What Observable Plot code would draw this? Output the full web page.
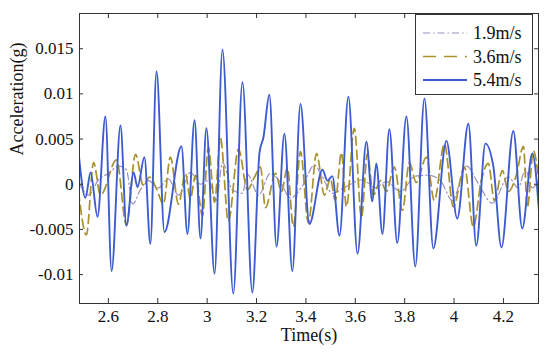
<!DOCTYPE html>
<html>
<head>
<meta charset="utf-8">
<script src="https://cdn.jsdelivr.net/npm/d3@7"></script>
<script src="https://cdn.jsdelivr.net/npm/@observablehq/plot@0.6"></script>
<style>
  html, body { margin: 0; padding: 0; background: #fff; }
  #wrap { position: relative; width: 550px; height: 354px; }
  #wrap svg text { font-family: 'Liberation Serif', 'Times New Roman', Times, serif; }
  #legend { position: absolute; left: 415px; top: 14px; }
</style>
</head>
<body>
<div id="wrap"></div>
<script>
// ---- Data ----
const xTickValues = [2.6, 2.8, 3, 3.2, 3.4, 3.6, 3.8, 4, 4.2];
const yTickValues = [-0.01, -0.005, 0, 0.005, 0.01, 0.015];
const seriesNames = ["1.9m/s", "3.6m/s", "5.4m/s"];

// 5.4 m/s
const time54 = [2.479, 2.507, 2.528, 2.556, 2.588, 2.613, 2.649, 2.673, 2.702, 2.718, 2.746, 2.770, 2.795, 2.827,
  2.896, 2.920, 2.949, 2.973, 2.997, 3.030, 3.062, 3.106, 3.143, 3.183, 3.212, 3.228, 3.252, 3.281, 3.313, 3.345,
  3.378, 3.414, 3.467, 3.487, 3.507, 3.536, 3.572, 3.609, 3.645, 3.669, 3.685, 3.710, 3.738, 3.770, 3.807, 3.843,
  3.880, 3.916, 3.969, 4.013, 4.058, 4.090, 4.127, 4.159, 4.192, 4.240, 4.276, 4.317, 4.345];
const acc54 = [0.0036, -0.0015, 0.0013, -0.0036, 0.0075, -0.0096, 0.0065, -0.0046, 0.0013, -0.0003, 0.0030, -0.0066, 0.0125, -0.0053,
  0.0042, -0.0055, 0.0071, -0.0060, 0.0062, -0.0099, 0.0149, -0.0121, 0.0113, -0.0120, 0.0035, 0.0052, 0.0099, -0.0069, 0.0056, -0.0096,
  0.0089, -0.0044, 0.0016, 0.0004, 0.0009, -0.0057, 0.0097, -0.0077, 0.0047, -0.0019, 0.0023, -0.0055, 0.0061, -0.0065, 0.0075, -0.0091,
  0.0095, -0.0071, 0.0048, -0.0038, 0.0067, -0.0068, 0.0045, 0.0020, -0.0070, 0.0059, -0.0049, 0.0034, -0.0033];

// 3.6 m/s
const time36 = [2.479, 2.511, 2.540, 2.568, 2.633, 2.673, 2.710, 2.742, 2.766, 2.795, 2.823, 2.851, 2.884, 2.912, 2.932,
  2.953, 2.981, 3.005, 3.030, 3.054, 3.086, 3.127, 3.163, 3.192, 3.216, 3.236, 3.277, 3.301, 3.325, 3.349, 3.378,
  3.410, 3.443, 3.475, 3.499, 3.519, 3.544, 3.564, 3.596, 3.625, 3.649, 3.673, 3.702, 3.726, 3.758, 3.791, 3.819,
  3.847, 3.888, 3.920, 3.961, 3.997, 4.042, 4.078, 4.111, 4.139, 4.163, 4.196, 4.220, 4.252, 4.281, 4.297, 4.321, 4.345];
const acc36 = [-0.0008, -0.0056, 0.0024, -0.0012, 0.0027, -0.0045, 0.0033, -0.0002, 0.0008, -0.0005, -0.0022, 0.0030, -0.0022, 0.0012, -0.0016,
  0.0010, -0.0035, 0.0041, -0.0020, 0.0051, -0.0041, 0.0039, -0.0006, 0.0008, 0.0019, -0.0026, 0.0012, -0.0008, 0.0018, -0.0047, 0.0036,
  -0.0043, 0.0034, -0.0012, 0.0006, -0.0018, 0.0035, -0.0025, 0.0062, -0.0037, 0.0034, -0.0012, 0.0004, -0.0008, 0.0019, -0.0029, 0.0024,
  0.0002, 0.0030, -0.0018, 0.0045, -0.0025, 0.0019, -0.0047, 0.0005, 0.0023, -0.0018, 0.0015, -0.0008, 0.0010, 0.0042, -0.0026, 0.0037, 0.0000];

// 1.9 m/s
const time19 = [2.479, 2.519, 2.560, 2.600, 2.641, 2.673, 2.698, 2.730, 2.762, 2.803, 2.843, 2.884, 2.932, 2.973, 3.005,
  3.038, 3.062, 3.102, 3.143, 3.163, 3.208, 3.256, 3.297, 3.337, 3.386, 3.434, 3.467, 3.507, 3.560, 3.629, 3.681,
  3.726, 3.783, 3.843, 3.896, 3.945, 3.993, 4.050, 4.098, 4.155, 4.220, 4.260, 4.289, 4.317, 4.345];
const acc19 = [0.0003, -0.0012, 0.0005, 0.0012, 0.0020, 0.0016, -0.0022, -0.0006, 0.0004, -0.0004, 0.0006, -0.0012, 0.0013, 0.0000, 0.0004,
  -0.0018, 0.0024, -0.0006, -0.0010, 0.0011, -0.0012, 0.0012, 0.0002, -0.0015, -0.0002, 0.0021, 0.0008, -0.0010, -0.0003, 0.0005, -0.0004,
  0.0003, -0.0008, 0.0009, 0.0010, 0.0004, -0.0018, 0.0020, 0.0001, -0.0021, 0.0008, -0.0004, 0.0016, -0.0004, 0.0006];

const colors = {"1.9m/s": "#9a90c2", "3.6m/s": "#a8922e", "5.4m/s": "#3d5ccf"};

const toRows = (ts, vs) => ts.map((t, i) => ({t, v: vs[i]}));
const d19 = toRows(time19, acc19);
const d36 = toRows(time36, acc36);
const d54 = toRows(time54, acc54);

const serif = "'Liberation Serif', 'Times New Roman', Times, serif";
const fmtX = d => String(+d.toFixed(1));
const fmtY = d => String(+d.toFixed(3));

const chart = Plot.plot({
  width: 550,
  height: 354,
  marginLeft: 79,
  marginRight: 12,
  marginTop: 13,
  marginBottom: 51,
  x: {domain: [2.483, 4.342]},
  y: {domain: [-0.0132, 0.0189]},
  style: {fontFamily: serif, fontSize: "17px", background: "#fff", color: "#111"},
  marks: [
    Plot.lineY(d19, {x: "t", y: "v", curve: "monotone-x", stroke: colors["1.9m/s"], strokeWidth: 1.2, strokeDasharray: "7,3,1.5,3", clip: true}),
    Plot.lineY(d36, {x: "t", y: "v", curve: "monotone-x", stroke: colors["3.6m/s"], strokeWidth: 1.7, strokeDasharray: "9,5", clip: true}),
    Plot.lineY(d54, {x: "t", y: "v", curve: "monotone-x", stroke: colors["5.4m/s"], strokeWidth: 1.9, clip: true}),
    Plot.frame({stroke: "#333", strokeWidth: 1}),
    Plot.tickX(xTickValues, {x: d => d, insetTop: 285, stroke: "#333"}),
    Plot.tickX(xTickValues, {x: d => d, insetBottom: 285, stroke: "#333"}),
    Plot.tickY(yTickValues, {y: d => d, insetRight: 455, stroke: "#333"}),
    Plot.tickY(yTickValues, {y: d => d, insetLeft: 455, stroke: "#333"}),
    Plot.axisX({ticks: xTickValues, tickSize: 0, tickPadding: 6, tickFormat: fmtX, label: null, fontFamily: serif, fontSize: 17}),
    Plot.axisY({ticks: yTickValues, tickSize: 0, tickPadding: 6, tickFormat: fmtY, label: null, fontFamily: serif, fontSize: 17}),
    Plot.text(["Time(s)"], {frameAnchor: "bottom", dy: 37, fontSize: 18, fontFamily: serif, fill: "#111"}),
    Plot.text(["Acceleration(g)"], {frameAnchor: "left", rotate: -90, dx: -62, dy: -3, fontSize: 18, fontFamily: serif, fill: "#111"})
  ]
});

const wrap = document.getElementById("wrap");
wrap.appendChild(chart);

// Legend box inside the plot area (top-right)
const lw = 118, lh = 81;
const leg = d3.select(wrap).append("svg")
  .attr("id", "legend")
  .attr("width", lw).attr("height", lh)
  .style("font-family", serif).style("font-size", "18px");
leg.append("rect").attr("x", 0.5).attr("y", 0.5).attr("width", lw - 1).attr("height", lh - 1)
  .attr("fill", "#fff").attr("stroke", "#333");
const styles = {
  "1.9m/s": {dash: "7,3,1.5,3", w: 1.2},
  "3.6m/s": {dash: "13,8", w: 1.7},
  "5.4m/s": {dash: null, w: 1.9}
};
seriesNames.forEach((name, i) => {
  const y = 19 + i * 23.5;
  const ln = leg.append("line").attr("x1", 8).attr("x2", 52).attr("y1", y).attr("y2", y)
    .attr("stroke", colors[name]).attr("stroke-width", styles[name].w);
  if (styles[name].dash) ln.attr("stroke-dasharray", styles[name].dash);
  leg.append("text").attr("x", 58).attr("y", y).attr("dy", "0.35em").attr("fill", "#111").text(name);
});
</script>
</body>
</html>
